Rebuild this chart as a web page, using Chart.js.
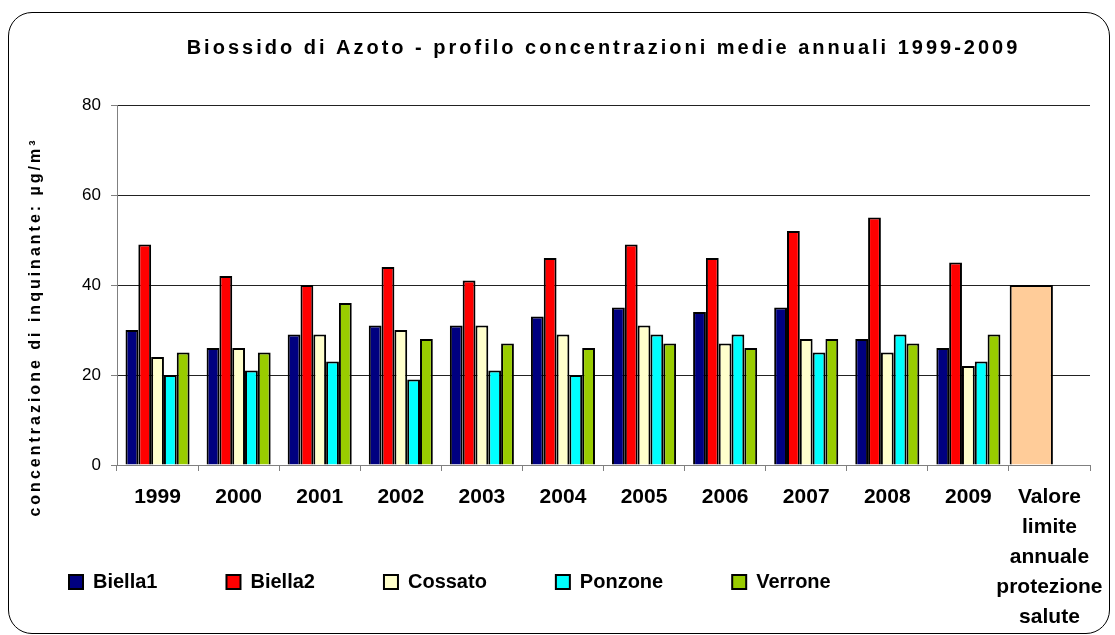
<!DOCTYPE html>
<html>
<head>
<meta charset="utf-8">
<script src="https://cdn.jsdelivr.net/npm/chart.js@4/dist/chart.umd.min.js"></script>
<style>
  body { margin: 0; background: #fff; }
  #wrap { position: relative; width: 1115px; height: 635px; }
  #frame { position: absolute; left: 8px; top: 12px; width: 1100px; height: 620px;
           border: 1.5px solid #000; border-radius: 24px; pointer-events: none; }
  canvas { position: absolute; left: 0; top: 0; }
</style>
</head>
<body>
<div id="wrap">
  <canvas id="chart" width="1115" height="635"></canvas>
  <div id="frame"></div>
</div>
<script>
const years = ['1999', '2000', '2001', '2002', '2003', '2004', '2005', '2006', '2007', '2008', '2009',
    ['Valore', 'limite', 'annuale', 'protezione', 'salute']];

const biella1 = [30, 26, 29, 31, 31, 33, 35, 34, 35, 28, 26, null];
const biella2 = [49, 42, 40, 44, 41, 46, 49, 46, 52, 55, 45, null];
const cossato = [24, 26, 29, 30, 31, 29, 31, 27, 28, 25, 22, null];
const ponzone = [20, 21, 23, 19, 21, 20, 29, 29, 25, 29, 23, null];
const verrone = [25, 25, 36, 28, 27, 26, 27, 26, 28, 27, 29, null];
const limite = [null, null, null, null, null, null, null, null, null, null, null, 40];

const yTicks = [0, 20, 40, 60, 80];

const FONT = '"Liberation Sans", Arial, sans-serif';

function station(label, data, color) {
    return {
        label: label,
        data: data,
        stack: label,
        backgroundColor: color,
        borderColor: '#000',
        borderWidth: 2
    };
}

// title texts in the picture are widely tracked, the axis title sits lower than centre,
// and the long last category label runs down past the x axis box
const tweaks = {
    id: 'tweaks',
    afterLayout(chart) {
        const ctx = chart.ctx;
        const tb = chart.titleBlock;
        if (tb && !tb._origDraw) {
            tb._origDraw = tb.draw;
            tb.draw = function() {
                ctx.letterSpacing = '3px';
                tb._origDraw.apply(tb, arguments);
                ctx.letterSpacing = '0px';
            };
        }
        const y = chart.scales.y;
        if (y && !y._origTitle) {
            y._origTitle = y.drawTitle;
            y.drawTitle = function() {
                ctx.save();
                ctx.letterSpacing = '3px';
                ctx.translate(0, 42);
                y._origTitle.apply(y, arguments);
                ctx.restore();
                ctx.letterSpacing = '0px';
            };
        }
        chart.scales.x.bottom = chart.height;
    }
};

new Chart(document.getElementById('chart'), {
    type: 'bar',
    data: {
        labels: years,
        datasets: [
            station('Biella1', biella1, '#000080'),
            station('Biella2', biella2, '#FF0000'),
            station('Cossato', cossato, '#FFFFCC'),
            station('Ponzone', ponzone, '#00FFFF'),
            station('Verrone', verrone, '#99CC00'),
            {
                label: 'Valore limite',
                data: limite,
                stack: 'Biella2',
                backgroundColor: '#FFCC99',
                borderColor: '#000',
                borderWidth: 2,
                categoryPercentage: 1.12,
                barPercentage: 2.38
            }
        ]
    },
    plugins: [tweaks],
    options: {
        responsive: false,
        animation: false,
        categoryPercentage: 0.79,
        barPercentage: 1.0,
        layout: { padding: { top: 12, right: 25, bottom: 33, left: 0 } },
        plugins: {
            title: {
                display: true,
                text: 'Biossido di Azoto - profilo concentrazioni medie annuali 1999-2009',
                fullSize: false,
                color: '#000',
                font: { family: FONT, size: 20, weight: 'bold', lineHeight: 1.2 },
                padding: { top: 24, bottom: 45 }
            },
            legend: {
                position: 'bottom',
                align: 'start',
                labels: {
                    color: '#000',
                    font: { family: FONT, size: 20, weight: 'bold' },
                    boxWidth: 14,
                    boxHeight: 14,
                    padding: 69,
                    filter: function(item) { return item.text !== 'Valore limite'; }
                }
            },
            tooltip: { enabled: false }
        },
        scales: {
            x: {
                afterFit: function(scale) { scale.height = 38; },
                grid: {
                    drawOnChartArea: false,
                    color: '#808080',
                    tickLength: 6
                },
                border: { color: '#808080', width: 1 },
                ticks: {
                    color: '#000',
                    font: { family: FONT, size: 21, weight: 'bold', lineHeight: 1.43 },
                    padding: 11,
                    maxRotation: 0,
                    minRotation: 0,
                    autoSkip: false
                }
            },
            y: {
                min: 0,
                max: 80,
                afterFit: function(scale) { scale.width = 117; },
                afterBuildTicks: function(scale) {
                    scale.ticks = yTicks.map(function(v) { return { value: v }; });
                },
                grid: {
                    color: '#222',
                    tickColor: '#808080',
                    tickLength: 6
                },
                border: { color: '#808080', width: 1 },
                ticks: {
                    color: '#000',
                    font: { family: FONT, size: 17 },
                    padding: 10
                },
                title: {
                    display: true,
                    text: 'concentrazione di inquinante: µg/m³',
                    color: '#000',
                    font: { family: FONT, size: 16, weight: 'bold', lineHeight: 1.2 },
                    padding: { top: 26, bottom: 0 }
                }
            }
        }
    }
});
</script>
</body>
</html>
